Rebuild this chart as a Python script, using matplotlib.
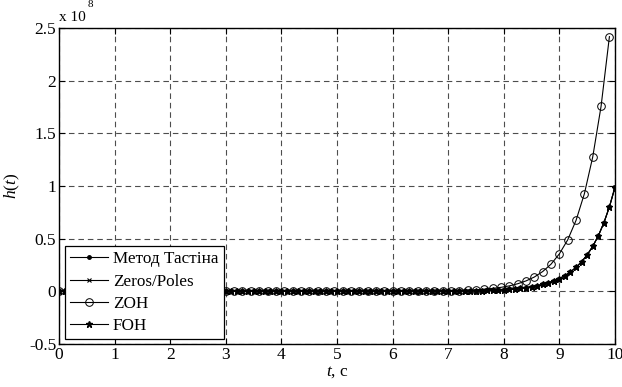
import numpy as np
import matplotlib
matplotlib.use("Agg")
import matplotlib.pyplot as plt

plt.rcParams['font.family'] = ['Liberation Serif', 'DejaVu Serif']
plt.rcParams['mathtext.fontset'] = 'custom'
plt.rcParams['mathtext.rm'] = 'Liberation Serif'
plt.rcParams['mathtext.it'] = 'Liberation Serif:italic'
plt.rcParams['axes.unicode_minus'] = False

SCALE = 1e8

# time grids (s)
t_fine = [round(0.1 * i, 2) for i in range(101)]      # 0 .. 10, step 0.1
t_zoh = [round(0.15 * i, 2) for i in range(67)]       # 0 .. 9.9, step 0.15

# values in units of 1e8
tustin_tail = [0.0010, 0.0014, 0.0018, 0.0023, 0.0028, 0.0035, 0.0043, 0.0053, 0.0065, 0.0080,
               0.010, 0.012, 0.015, 0.018, 0.023, 0.028, 0.034, 0.042, 0.052, 0.065,
               0.080, 0.098, 0.121, 0.149, 0.184, 0.228, 0.281, 0.346, 0.427, 0.527,
               0.650, 0.802, 0.990]
tustin = [0.0] * (101 - len(tustin_tail)) + tustin_tail
zeros_poles = list(tustin)
foh_tail = [0.0010, 0.0014, 0.0018, 0.0023, 0.0028, 0.0035, 0.0043, 0.0053, 0.0065, 0.0080,
            0.010, 0.012, 0.015, 0.018, 0.023, 0.028, 0.034, 0.042, 0.052, 0.065,
            0.080, 0.098, 0.121, 0.149, 0.184, 0.228, 0.281, 0.346, 0.427, 0.527,
            0.650, 0.802, 0.985]
foh = [0.0] * (101 - len(foh_tail)) + foh_tail
zoh_tail = [0.0011, 0.0016, 0.0022, 0.0030, 0.0041, 0.0056, 0.0077, 0.0106, 0.0146, 0.020,
            0.028, 0.038, 0.052, 0.072, 0.099, 0.136, 0.188, 0.258, 0.356, 0.489,
            0.674, 0.927, 1.276, 1.757, 2.418]
zoh = [0.0] * (67 - len(zoh_tail)) + zoh_tail

labels = ['Метод Тастіна', 'Zeros/Poles', 'ZOH', 'FOH']
xticks = list(range(0, 11))
yticks = [-0.5, 0, 0.5, 1, 1.5, 2, 2.5]
ytick_labels = ['-0.5', '0', '0.5', '1', '1.5', '2', '2.5']

fig = plt.figure(figsize=(6.22, 3.87), dpi=100)
ax = fig.add_axes([0.0949, 0.1111, 0.8938, 0.8165])

ax.plot(t_fine, tustin, color='k', lw=0.8, marker='.', ms=5, label=labels[0])
ax.plot(t_fine, zeros_poles, color='k', lw=0.8, marker='x', ms=3.5, mew=0.8, label=labels[1])
ax.plot(t_zoh, zoh, color='k', lw=0.8, marker='o', ms=5.5, mfc='none', mew=0.7, label=labels[2])
ax.plot(t_fine, foh, color='k', lw=0.8, marker='*', ms=5, label=labels[3])

ax.set_xlim(0, 10)
ax.set_ylim(-0.5, 2.5)
ax.set_xticks(xticks)
ax.set_yticks(yticks)
ax.set_yticklabels(ytick_labels)
ax.tick_params(direction='in', length=4, width=0.8, top=True, right=True,
               labelsize=12.5, pad=2, colors='k')
ax.grid(True, color='0.3', linestyle=(0, (5, 3.5)), linewidth=0.8)
for s in ax.spines.values():
    s.set_linewidth(1.0)
    s.set_color('k')

ax.set_xlabel('$t$, c', fontsize=12.5, labelpad=1)
ax.set_ylabel('$h$($t$)', fontsize=12.5, labelpad=5)
ax.text(0.0, 1.012, 'x 10', transform=ax.transAxes, fontsize=11, ha='left', va='bottom')
ax.text(0.052, 1.06, '8', transform=ax.transAxes, fontsize=8, ha='left', va='bottom')

leg = ax.legend(loc='lower left', bbox_to_anchor=(0.011, 0.016), borderaxespad=0,
                fontsize=12.3, frameon=True, fancybox=False, framealpha=1,
                edgecolor='k', handlelength=2.2, handletextpad=0.3,
                labelspacing=0.36, borderpad=0.3)
leg.get_frame().set_linewidth(0.9)

fig.savefig('out.png', dpi=100)
